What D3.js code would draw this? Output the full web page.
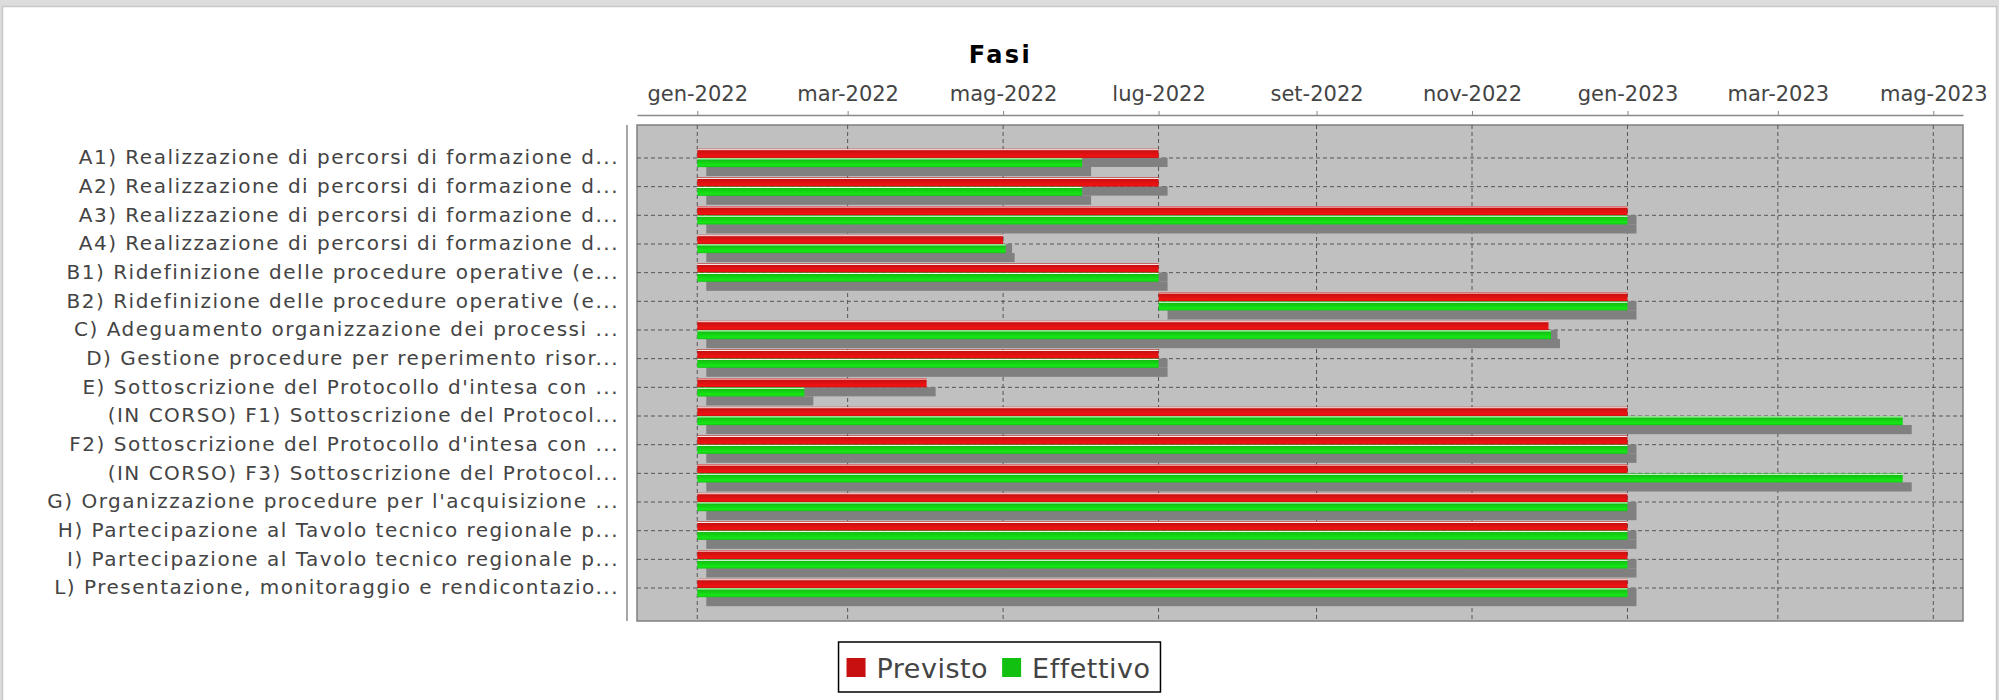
<!DOCTYPE html>
<html>
<head>
<meta charset="utf-8">
<script src="https://cdn.jsdelivr.net/npm/d3@7"></script>
<style>
  body { margin: 0; background: #fff; }
  svg { display: block; font-family: "DejaVu Sans", sans-serif; }
</style>
</head>
<body>
<svg id="chart"></svg>
<script>
const categories = [
  "A1) Realizzazione di percorsi di formazione d...",
  "A2) Realizzazione di percorsi di formazione d...",
  "A3) Realizzazione di percorsi di formazione d...",
  "A4) Realizzazione di percorsi di formazione d...",
  "B1) Ridefinizione delle procedure operative (e...",
  "B2) Ridefinizione delle procedure operative (e...",
  "C) Adeguamento organizzazione dei processi ...",
  "D) Gestione procedure per reperimento risor...",
  "E) Sottoscrizione del Protocollo d'intesa con ...",
  "(IN CORSO) F1) Sottoscrizione del Protocol...",
  "F2) Sottoscrizione del Protocollo d'intesa con ...",
  "(IN CORSO) F3) Sottoscrizione del Protocol...",
  "G) Organizzazione procedure per l'acquisizione ...",
  "H) Partecipazione al Tavolo tecnico regionale p...",
  "I) Partecipazione al Tavolo tecnico regionale p...",
  "L) Presentazione, monitoraggio e rendicontazio..."
];

const seriesNames = ["Previsto", "Effettivo"];
const seriesColors = ["#c81010", "#12c012"];

const previstoStart = [
  "2022-01-01", "2022-01-01", "2022-01-01", "2022-01-01", "2022-01-01", "2022-07-01",
  "2022-01-01", "2022-01-01", "2022-01-01", "2022-01-01", "2022-01-01", "2022-01-01",
  "2022-01-01", "2022-01-01", "2022-01-01", "2022-01-01"
];
const previstoEnd = [
  "2022-07-01", "2022-07-01", "2023-01-01", "2022-05-01", "2022-07-01", "2023-01-01",
  "2022-12-01", "2022-07-01", "2022-04-01", "2023-01-01", "2023-01-01", "2023-01-01",
  "2023-01-01", "2023-01-01", "2023-01-01", "2023-01-01"
];
const effettivoStart = [
  "2022-01-01", "2022-01-01", "2022-01-01", "2022-01-01", "2022-01-01", "2022-07-01",
  "2022-01-01", "2022-01-01", "2022-01-01", "2022-01-01", "2022-01-01", "2022-01-01",
  "2022-01-01", "2022-01-01", "2022-01-01", "2022-01-01"
];
const effettivoEnd = [
  "2022-06-01", "2022-06-01", "2023-01-01", "2022-05-02", "2022-07-01", "2023-01-01",
  "2022-12-02", "2022-07-01", "2022-02-12", "2023-04-19", "2023-01-01", "2023-04-19",
  "2023-01-01", "2023-01-01", "2023-01-01", "2023-01-01"
];

const monthLabels = ["gen", "feb", "mar", "apr", "mag", "giu", "lug", "ago", "set", "ott", "nov", "dic"];

class GanttChart {
  margin = {
    top: 125, right: 36, bottom: 79, left: 637
  }

  constructor(svg, width = 1999, height = 700) {
    this.svg = d3.select(svg);
    this.width = width;
    this.height = height;
    this.plotW = width - this.margin.left - this.margin.right;
    this.plotH = height - this.margin.top - this.margin.bottom;
  }

  initialize(tasks) {
    const m = this.margin;
    this.svg.attr("width", this.width).attr("height", this.height);

    // panel frame
    this.svg.append("rect").attr("width", this.width).attr("height", this.height).attr("fill", "#dcdcdc");
    this.svg.append("rect")
      .attr("x", 2.5).attr("y", 6.5)
      .attr("width", this.width - 5).attr("height", this.height)
      .attr("fill", "#fff").attr("stroke", "#c8c8c8").attr("stroke-width", 1.5);

    const defs = this.svg.append("defs");
    seriesColors.forEach((c, i) => {
      const c1 = d3.color(c).brighter(0.515);
      const grad = defs.append("linearGradient")
        .attr("id", "grad" + i)
        .attr("x1", 0).attr("y1", 0).attr("x2", 0).attr("y2", 1);
      [[0, c], [0.1, "#fff"], [0.2, c], [0.8, c1], [1, c]].forEach(([o, col]) => {
        grad.append("stop").attr("offset", o).attr("stop-color", col);
      });
    });

    // JFreeChart style: 5% margin on both sides of the date range
    const allDates = tasks.flatMap(t => [t.start, t.end]);
    const [minD, maxD] = d3.extent(allDates);
    const pad = (maxD - minD) * 0.05;
    this.xScale = d3.scaleTime()
      .domain([new Date(+minD - pad), new Date(+maxD + pad)])
      .range([m.left, m.left + this.plotW]);

    this.yScale = d3.scaleBand()
      .domain(categories)
      .range([m.top, m.top + this.plotH])
      .paddingInner(0.2)
      .paddingOuter(0.75);

    this.sScale = d3.scaleBand()
      .domain(seriesNames)
      .range([0, this.yScale.bandwidth()])
      .paddingOuter(0.25);

    const ticks = d3.timeMonth.every(2).range(d3.timeMonth.ceil(this.xScale.domain()[0]), this.xScale.domain()[1]);

    // plot area
    this.svg.append("rect")
      .attr("x", m.left).attr("y", m.top)
      .attr("width", this.plotW).attr("height", this.plotH)
      .attr("fill", "#c0c0c0")
      .attr("stroke", "#808080").attr("stroke-width", 1.5);

    const grid = this.svg.append("g").attr("stroke", "#555").attr("stroke-width", 1).attr("stroke-dasharray", "4,3");
    grid.selectAll(".vgrid").data(ticks).join("line")
      .attr("class", "vgrid")
      .attr("x1", d => this.xScale(d)).attr("x2", d => this.xScale(d))
      .attr("y1", m.top).attr("y2", m.top + this.plotH);
    grid.selectAll(".hgrid").data(categories).join("line")
      .attr("class", "hgrid")
      .attr("x1", m.left).attr("x2", m.left + this.plotW)
      .attr("y1", d => this.yScale(d) + this.yScale.bandwidth() / 2)
      .attr("y2", d => this.yScale(d) + this.yScale.bandwidth() / 2);

    // bars: shadow then bar, per item
    const shadow = 9;
    const bars = this.svg.append("g");
    tasks.forEach(t => {
      const x0 = this.xScale(t.start);
      const w = this.xScale(t.end) - x0;
      const y0 = this.yScale(t.category) + this.sScale(t.series);
      const h = this.sScale.bandwidth();
      bars.append("rect")
        .attr("x", x0 + shadow).attr("y", y0 + shadow)
        .attr("width", w).attr("height", h)
        .attr("fill", "#808080");
      bars.append("rect")
        .attr("x", x0).attr("y", y0)
        .attr("width", w).attr("height", h)
        .attr("fill", `url(#grad${seriesNames.indexOf(t.series)})`);
    });

    // date axis on top
    this.xAxis = this.svg.append("g")
      .attr("transform", `translate(0,115)`)
      .call(d3.axisTop(this.xScale)
        .tickValues(ticks)
        .tickSize(4)
        .tickSizeOuter(0)
        .tickPadding(10)
        .tickFormat(d => monthLabels[d.getMonth()] + "-" + d.getFullYear()));
    this.xAxis.attr("font-family", null).attr("font-size", null);
    this.xAxis.select(".domain").attr("stroke", "#888").attr("stroke-width", 1.5);
    this.xAxis.selectAll(".tick line").attr("stroke", "#888");
    this.xAxis.selectAll("text")
      .attr("fill", "#444")
      .style("font-size", "21px");

    // category axis
    this.yAxis = this.svg.append("g")
      .attr("transform", `translate(627,0)`)
      .call(d3.axisLeft(this.yScale).tickSize(0).tickSizeOuter(0).tickPadding(8));
    this.yAxis.attr("font-family", null).attr("font-size", null);
    this.yAxis.select(".domain")
      .attr("d", `M0,${m.top}V${m.top + this.plotH}`)
      .attr("stroke", "#888").attr("stroke-width", 1.5);
    this.yAxis.selectAll("text")
      .attr("fill", "#444")
      .style("font-size", "20px")
      .style("letter-spacing", "1.5px");

    // title
    this.svg.append("text")
      .attr("x", this.width / 2 + 1).attr("y", 63)
      .attr("text-anchor", "middle")
      .style("font-size", "24px").style("font-weight", "bold")
      .style("letter-spacing", "2.5px")
      .text("Fasi");

    // legend
    const legend = this.svg.append("g");
    const box = legend.append("rect")
      .attr("y", 642).attr("height", 50)
      .attr("fill", "#fff").attr("stroke", "#000").attr("stroke-width", 1.5);
    let lx = 0;
    const items = legend.append("g");
    seriesNames.forEach((s, i) => {
      items.append("rect")
        .attr("x", lx).attr("y", 658).attr("width", 19).attr("height", 19)
        .attr("fill", seriesColors[i]);
      const txt = items.append("text")
        .attr("x", lx + 30).attr("y", 678)
        .attr("fill", "#444")
        .style("font-size", "27px")
        .style("letter-spacing", "0.5px")
        .text(s);
      lx += 30 + txt.node().getComputedTextLength() + 14;
    });
    const itemsW = lx - 14;
    const bw = itemsW + 18;
    const bx = (this.width - bw) / 2;
    box.attr("x", bx).attr("width", bw);
    items.attr("transform", `translate(${bx + 8},0)`);
  }
}

const parse = d3.timeParse("%Y-%m-%d");
const tasks = [];
categories.forEach((c, i) => {
  tasks.push({ category: c, series: "Previsto", start: parse(previstoStart[i]), end: parse(previstoEnd[i]) });
  tasks.push({ category: c, series: "Effettivo", start: parse(effettivoStart[i]), end: parse(effettivoEnd[i]) });
});

const chart = new GanttChart("#chart");
chart.initialize(tasks);
</script>
</body>
</html>
